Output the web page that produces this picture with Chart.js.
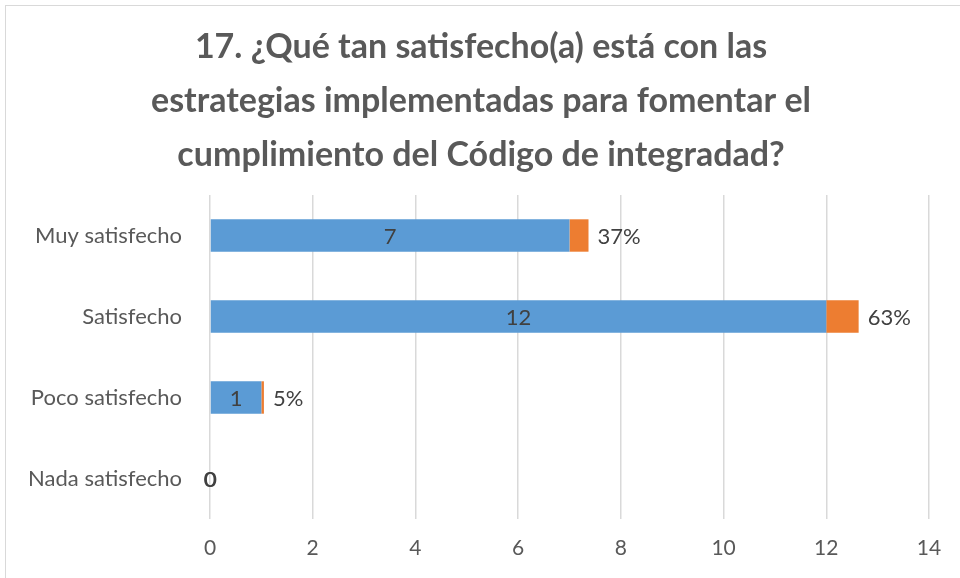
<!DOCTYPE html>
<html>
<head>
<meta charset="utf-8">
<script src="https://cdn.jsdelivr.net/npm/chart.js@4/dist/chart.umd.min.js"></script>
<style>
  html, body { margin: 0; padding: 0; background: #fff; }
  #wrap { width: 960px; height: 578px; }
</style>
</head>
<body>
<div id="wrap"><canvas id="satisfaccionChart" width="960" height="578"></canvas></div>
<script>
const categories = ['Muy satisfecho', 'Satisfecho', 'Poco satisfecho', 'Nada satisfecho'];
const cantidades = [7, 12, 1, 0];
const porcentajes = [0.37, 0.63, 0.05, 0];
const xTicks = [0, 2, 4, 6, 8, 10, 12, 14];
const titleLines = [
    '17. ¿Qué tan satisfecho(a) está con las',
    'estrategias implementadas para fomentar el',
    'cumplimiento del Código de integradad?'
];

const fontFamily = 'Lato, "Open Sans", sans-serif';

// labels on the bars: count in the middle of the blue bar, percent after the orange one
const barLabels = {
    id: 'barLabels',
    afterDatasetsDraw(chart) {
        const ctx = chart.ctx;
        ctx.save();
        ctx.font = '22px ' + fontFamily;
        ctx.fillStyle = '#404040';
        ctx.textBaseline = 'middle';
        chart.getDatasetMeta(0).data.forEach((bar, i) => {
            ctx.textAlign = 'center';
            const left = Math.min(bar.x, bar.base);
            const right = Math.max(bar.x, bar.base);
            const mid = (left + right) / 2;
            ctx.fillText(String(cantidades[i]), mid, bar.y + 1);
            // the zero label is printed twice in the original, so it looks heavier
            if (cantidades[i] === 0) ctx.fillText('0', mid + 0.7, bar.y + 1);
        });
        chart.getDatasetMeta(1).data.forEach((bar, i) => {
            if (porcentajes[i] === 0) return;
            ctx.textAlign = 'left';
            ctx.fillText(Math.round(porcentajes[i] * 100) + '%', bar.x + 9, bar.y + 1);
        });
        ctx.restore();
    }
};

// border of the chart box and the title, centred on the whole box (not the plot)
const frame = {
    id: 'frame',
    beforeDraw(chart) {
        const ctx = chart.ctx;
        ctx.save();
        ctx.fillStyle = '#fff';
        ctx.fillRect(0, 0, chart.width, chart.height);
        ctx.strokeStyle = '#d9d9d9';
        ctx.lineWidth = 1;
        ctx.strokeRect(5.5, 5.5, chart.width + 20, chart.height + 20);
        ctx.fillStyle = '#595959';
        ctx.font = 'bold 34px ' + fontFamily;
        ctx.textAlign = 'center';
        ctx.textBaseline = 'middle';
        titleLines.forEach((line, i) => {
            ctx.fillText(line, 481, 47 + i * 54);
        });
        ctx.restore();
    }
};

new Chart(document.getElementById('satisfaccionChart').getContext('2d'), {
    type: 'bar',
    data: {
        labels: categories,
        datasets: [{
            label: 'Cantidad',
            data: cantidades,
            backgroundColor: '#5B9BD5',
            barPercentage: 0.8,
            categoryPercentage: 0.5
        }, {
            label: 'Porcentaje',
            data: porcentajes,
            backgroundColor: '#ED7D31',
            barPercentage: 0.8,
            categoryPercentage: 0.5
        }]
    },
    options: {
        indexAxis: 'y',
        responsive: false,
        animation: false,
        layout: {
            padding: { left: 0, right: 31, top: 195, bottom: 15 }
        },
        scales: {
            x: {
                stacked: true,
                min: 0,
                max: 14,
                afterBuildTicks: (scale) => {
                    scale.ticks = xTicks.map(v => ({ value: v }));
                },
                afterFit: (scale) => { scale.height = 44; },
                grid: { color: '#d9d9d9', lineWidth: 1.5, drawTicks: false },
                border: { display: false },
                ticks: {
                    padding: 17,
                    color: '#595959',
                    font: { family: fontFamily, size: 21 }
                }
            },
            y: {
                stacked: true,
                afterFit: (scale) => { scale.width = 210; },
                grid: { display: false, drawTicks: false },
                border: { display: false },
                ticks: {
                    padding: 28,
                    color: '#595959',
                    font: { family: fontFamily, size: 22 }
                }
            }
        },
        plugins: {
            legend: { display: false },
            tooltip: { enabled: false },
            title: { display: false }
        }
    },
    plugins: [frame, barLabels]
});
</script>
</body>
</html>
